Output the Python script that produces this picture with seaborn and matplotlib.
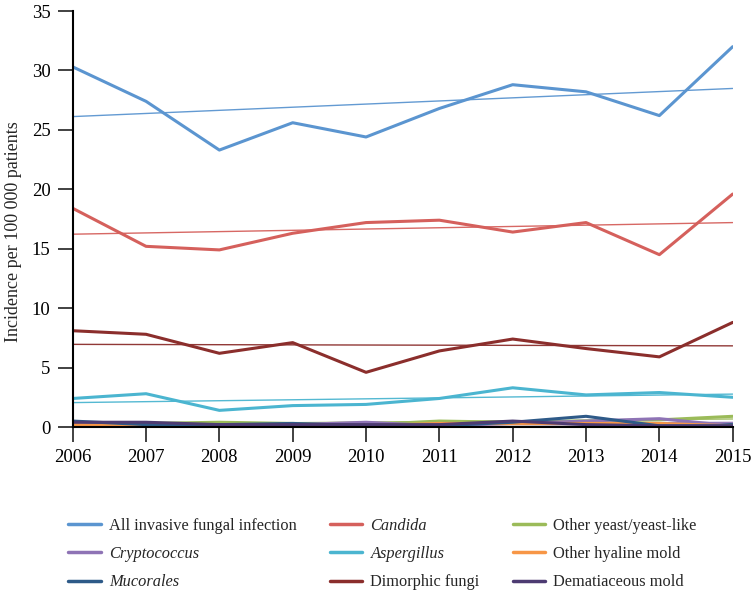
import numpy as np
import pandas as pd
import matplotlib
matplotlib.use("Agg")
import matplotlib.pyplot as plt
import seaborn as sns

years = [2006, 2007, 2008, 2009, 2010, 2011, 2012, 2013, 2014, 2015]

all_ifi = [30.3, 27.4, 23.3, 25.6, 24.4, 26.8, 28.8, 28.2, 26.2, 32.0]
candida = [18.4, 15.2, 14.9, 16.3, 17.2, 17.4, 16.4, 17.2, 14.5, 19.6]
other_yeast = [0.3, 0.3, 0.4, 0.3, 0.2, 0.5, 0.4, 0.5, 0.6, 0.9]
cryptococcus = [0.3, 0.2, 0.2, 0.2, 0.4, 0.1, 0.3, 0.5, 0.7, 0.1]
aspergillus = [2.4, 2.8, 1.4, 1.8, 1.9, 2.4, 3.3, 2.7, 2.9, 2.5]
other_hyaline = [0.2, 0.1, 0.1, 0.0, 0.1, 0.3, 0.3, 0.3, 0.3, 0.1]
mucorales = [0.5, 0.2, 0.2, 0.3, 0.1, 0.1, 0.4, 0.9, 0.1, 0.1]
dimorphic = [8.1, 7.8, 6.2, 7.1, 4.6, 6.4, 7.4, 6.6, 5.9, 8.8]
dematiaceous = [0.4, 0.4, 0.2, 0.2, 0.2, 0.2, 0.5, 0.2, 0.1, 0.1]

labels = ["All invasive fungal infection", "Candida", "Other yeast/yeast-like",
          "Cryptococcus", "Aspergillus", "Other hyaline mold",
          "Mucorales", "Dimorphic fungi", "Dematiaceous mold"]
series = [all_ifi, candida, other_yeast, cryptococcus, aspergillus,
          other_hyaline, mucorales, dimorphic, dematiaceous]
colors = ["#5b95d0", "#d5605c", "#9bbb59", "#8e73b5", "#4bb5d0",
          "#f79646", "#2e5a88", "#8b2e2c", "#4d3b72"]
italic = {"Candida", "Cryptococcus", "Aspergillus", "Mucorales"}

sns.set_theme(style="white")
plt.rcParams["font.family"] = ["Liberation Serif", "DejaVu Serif"]

fig = plt.figure(figsize=(7.52, 5.90), dpi=100)
ax = fig.add_axes([72.7 / 752, 1 - 427 / 590, (732.7 - 72.7) / 752, (427 - 11) / 590])

# trend lines (thin), then data lines
for lab, vals, col in zip(labels, series, colors):
    df = pd.DataFrame({"year": years, "value": vals})
    sns.regplot(data=df, x="year", y="value", ax=ax, scatter=False, ci=None,
                truncate=True, color=col, line_kws={"lw": 1.0, "alpha": 0.95})
order_draw = [2, 3, 5, 6, 8, 4, 7, 1, 0]
for i in order_draw:
    df = pd.DataFrame({"year": years, "value": series[i]})
    sns.lineplot(data=df, x="year", y="value", ax=ax, color=colors[i], lw=2.2,
                 label=labels[i])

ax.set_xlim(2006, 2015)
ax.set_ylim(0, 35)
ax.set_xticks(years)
ax.set_xticklabels([str(y) for y in years])
ax.set_yticks(range(0, 36, 5))
ax.set_xlabel("")
ax.set_ylabel("Incidence per 100 000 patients", fontsize=13)
ax.yaxis.set_label_coords(-0.077, 0.47)
for s in ["top", "right"]:
    ax.spines[s].set_visible(False)
for s in ["left", "bottom"]:
    ax.spines[s].set_color("black")
    ax.spines[s].set_linewidth(1.5)
ax.tick_params(axis="both", which="major", labelsize=13.5, direction="out",
               length=11, width=1.3, colors="#333333", labelcolor="black", pad=5,
               left=True, bottom=True)
ax.grid(False)

# legend in row-major visual order (matplotlib fills columns)
h, l = ax.get_legend_handles_labels()
hmap = dict(zip(l, h))
col_order = [labels[0], labels[3], labels[6],
             labels[1], labels[4], labels[7],
             labels[2], labels[5], labels[8]]
ax.get_legend().remove()
leg = fig.legend([hmap[k] for k in col_order], col_order, ncol=3,
                 loc="upper left", bbox_to_anchor=(68 / 752, 1 - 518 / 590),
                 frameon=False, fontsize=11.8, handlelength=2.0, handletextpad=0.5,
                 columnspacing=2.0, labelspacing=0.74, borderpad=0, borderaxespad=0)
for t in leg.get_texts():
    if t.get_text() in italic:
        t.set_fontstyle("italic")
for ln in leg.get_lines():
    ln.set_linewidth(2.5)

fig.savefig("out.png", dpi=100, facecolor="white")
